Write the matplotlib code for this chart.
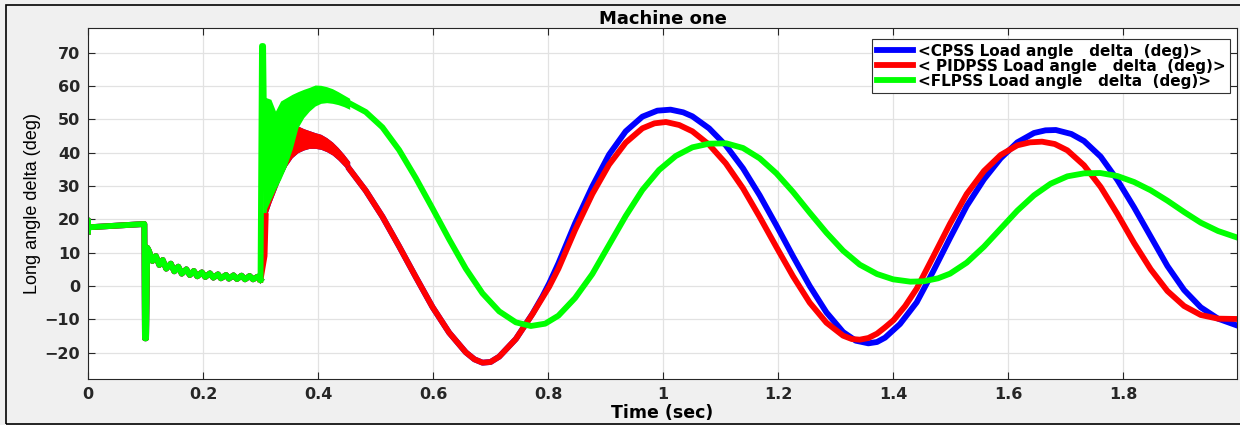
import matplotlib
matplotlib.use("Agg")
import matplotlib.pyplot as plt
from matplotlib.patches import Rectangle

# common pre-fault part (0 - 0.3 s), all three PSS give the same response
t_pre = [0.0, 0.0, 0.0, 0.098, 0.099, 0.101, 0.103, 0.106, 0.112, 0.118, 0.124, 0.130,
         0.136, 0.144, 0.150, 0.157, 0.163, 0.171, 0.177, 0.184, 0.190, 0.198, 0.204,
         0.212, 0.218, 0.226, 0.231, 0.240, 0.245, 0.253, 0.259, 0.267, 0.273, 0.281,
         0.287, 0.295, 0.300]
v_pre = [16.3, 19.7, 17.6, 18.6, -15.7, -15.7, 11.5, 10.5, 7.5, 9.0, 6.3, 7.8,
         5.2, 6.7, 4.4, 5.8, 3.7, 5.0, 3.3, 4.5, 2.9, 4.1, 2.7, 3.8,
         2.5, 3.5, 2.3, 3.3, 2.2, 3.2, 2.1, 3.1, 2.0, 3.0,
         2.0, 2.8, 1.9]

# chattering band right after the fault is cleared (upper / lower envelope)
t_band = [0.304, 0.310, 0.318, 0.326, 0.335, 0.345, 0.355, 0.365, 0.375, 0.385,
          0.395, 0.405, 0.415, 0.425, 0.435, 0.445, 0.455]
green_hi = [57.0, 56.5, 56.0, 52.5, 55.5, 56.5, 57.5, 58.3, 59.0, 59.6,
            60.3, 60.2, 59.8, 59.2, 58.3, 57.3, 56.3]
green_lo = [3.0, 23.0, 26.0, 29.0, 32.0, 36.0, 41.0, 47.5, 50.5, 52.5,
            54.0, 54.8, 55.0, 54.8, 54.4, 53.8, 53.0]
red_hi = [9.0, 24.0, 28.0, 31.0, 34.0, 38.0, 43.0, 48.0, 47.2, 46.6,
          46.0, 45.5, 44.5, 43.2, 41.5, 39.5, 37.3]
red_lo = [3.0, 21.0, 25.0, 28.5, 32.5, 36.0, 38.5, 40.0, 40.8, 41.3,
          41.3, 41.0, 40.3, 39.3, 37.8, 36.0, 34.0]

# spike of the FLPSS at fault clearing
t_spike = [0.300, 0.3025, 0.3045, 0.306]
v_spike = [1.9, 72.0, 72.0, 50.0]

# main swing after the band
t_red = [0.455, 0.483, 0.512, 0.541, 0.570, 0.599, 0.628, 0.657, 0.672, 0.686, 0.700,
         0.715, 0.744, 0.773, 0.802, 0.818, 0.847, 0.877, 0.906, 0.935, 0.964, 0.985,
         1.005, 1.028, 1.051, 1.080, 1.109, 1.139, 1.168, 1.197, 1.226, 1.255, 1.284,
         1.313, 1.328, 1.342, 1.357, 1.372, 1.386, 1.401, 1.421, 1.441, 1.470, 1.499,
         1.528, 1.558, 1.587, 1.616, 1.638, 1.659, 1.681, 1.703, 1.732, 1.761, 1.790,
         1.819, 1.848, 1.877, 1.906, 1.935, 1.965, 1.999]
v_red = [35.0, 28.6, 20.8, 11.9, 2.7, -6.3, -14.0, -19.9, -22.0, -23.0, -22.8,
         -21.2, -15.9, -8.4, -0.2, 5.2, 16.8, 27.6, 36.4, 43.0, 47.3, 48.8,
         49.2, 48.3, 46.4, 42.4, 36.8, 29.3, 20.7, 11.7, 2.9, -5.0, -11.0,
         -14.9, -15.9, -16.1, -15.6, -14.3, -12.4, -10.2, -6.0, -0.8, 8.9, 18.7,
         27.6, 34.5, 39.3, 42.2, 43.1, 43.3, 42.6, 40.7, 36.2, 29.7, 21.6,
         12.9, 5.0, -1.5, -6.0, -8.7, -9.8, -9.9]

t_blue = [0.455, 0.483, 0.512, 0.541, 0.570, 0.599, 0.628, 0.657, 0.672, 0.686, 0.700,
          0.715, 0.744, 0.773, 0.790, 0.802, 0.818, 0.847, 0.877, 0.906, 0.935, 0.964,
          0.990, 1.013, 1.035, 1.051, 1.080, 1.109, 1.139, 1.168, 1.197, 1.226, 1.255,
          1.284, 1.313, 1.335, 1.357, 1.372, 1.386, 1.412, 1.441, 1.470, 1.499, 1.528,
          1.558, 1.587, 1.616, 1.645, 1.665, 1.683, 1.710, 1.732, 1.761, 1.790, 1.819,
          1.848, 1.877, 1.906, 1.935, 1.965, 1.999]
v_blue = [35.0, 28.6, 20.8, 11.9, 2.7, -6.3, -14.0, -19.9, -22.0, -23.0, -22.8,
          -21.2, -15.9, -8.3, -3.2, 0.8, 6.8, 18.8, 29.9, 39.4, 46.4, 50.8,
          52.6, 52.9, 52.1, 50.9, 47.3, 42.2, 35.3, 27.2, 18.2, 8.9, 0.0,
          -7.9, -13.8, -16.4, -17.2, -16.8, -15.5, -11.4, -4.9, 4.5, 14.4, 24.0,
          32.0, 38.3, 43.1, 45.9, 46.7, 46.8, 45.6, 43.5, 38.8, 31.8, 23.6,
          14.8, 6.0, -1.2, -6.4, -9.8, -11.9]

t_green = [0.455, 0.483, 0.512, 0.541, 0.570, 0.599, 0.628, 0.657, 0.686, 0.715, 0.744,
           0.770, 0.795, 0.818, 0.847, 0.877, 0.906, 0.935, 0.964, 0.993, 1.022, 1.051,
           1.080, 1.110, 1.139, 1.168, 1.197, 1.226, 1.255, 1.284, 1.313, 1.342, 1.372,
           1.400, 1.430, 1.453, 1.478, 1.499, 1.528, 1.558, 1.587, 1.616, 1.645, 1.674,
           1.703, 1.732, 1.760, 1.790, 1.819, 1.848, 1.877, 1.906, 1.935, 1.965, 1.999]
v_green = [54.8, 52.2, 47.6, 40.8, 32.4, 23.3, 14.0, 5.2, -2.2, -7.6, -10.9,
           -12.0, -11.3, -8.9, -3.6, 3.6, 12.3, 21.0, 28.8, 34.8, 39.0, 41.6,
           42.7, 42.8, 41.4, 38.3, 33.8, 28.2, 22.0, 16.0, 10.6, 6.4, 3.6,
           2.0, 1.3, 1.4, 2.3, 3.7, 7.0, 11.8, 17.2, 22.6, 27.2, 30.7,
           32.9, 33.8, 33.9, 33.0, 31.2, 28.7, 25.6, 22.2, 19.0, 16.5, 14.5]

labels = ["<CPSS Load angle   delta  (deg)>",
          "< PIDPSS Load angle   delta  (deg)>",
          "<FLPSS Load angle   delta  (deg)>"]
colors = ["#0000ff", "#ff0000", "#00ff00"]

plt.rcParams["font.family"] = ["DejaVu Sans"]
plt.rcParams["font.weight"] = "bold"
plt.rcParams["lines.solid_joinstyle"] = "round"

W, H = 1240, 425
fig = plt.figure(figsize=(W / 100, H / 100), dpi=100, facecolor="#f0f0f0")
ax = fig.add_axes([88 / W, 1 - 379 / H, (1237 - 88) / W, (379 - 28) / H])
ax.set_facecolor("white")

lw = 4.2
# CPSS (blue) - same as PID before the swing, drawn first (under)
ax.plot(t_pre, v_pre, color=colors[0], lw=lw)
ax.fill_between(t_band, red_lo, red_hi, color=colors[0], lw=0)
ax.plot(t_blue, v_blue, color=colors[0], lw=lw, label=labels[0])

# PIDPSS (red)
ax.plot(t_pre, v_pre, color=colors[1], lw=lw)
ax.plot([0.300, 0.307, 0.309], [1.9, 9.0, 21.0], color=colors[1], lw=lw)
ax.fill_between(t_band, red_lo, red_hi, color=colors[1], lw=0)
ax.plot(t_red, v_red, color=colors[1], lw=lw, label=labels[1])

# FLPSS (green) on top
ax.plot(t_pre, v_pre, color=colors[2], lw=lw)
ax.plot(t_spike, v_spike, color=colors[2], lw=lw)
ax.fill_between(t_band, green_lo, green_hi, color=colors[2], lw=0)
ax.plot(t_green, v_green, color=colors[2], lw=lw, label=labels[2])

ax.set_xlim(0, 1.998)
ax.set_ylim(-27.9, 77.4)
ax.set_xticks([0, 0.2, 0.4, 0.6, 0.8, 1.0, 1.2, 1.4, 1.6, 1.8])
ax.set_xticklabels(["0", "0.2", "0.4", "0.6", "0.8", "1", "1.2", "1.4", "1.6", "1.8"])
ax.set_yticks(range(-20, 80, 10))
ax.grid(True, color="#e2e2e2", lw=0.9)
ax.set_axisbelow(True)
ax.tick_params(direction="in", top=True, right=True, length=5, width=0.8,
               colors="#262626", labelsize=11.5)
ax.tick_params(axis="y", pad=5.5)
ax.tick_params(axis="x", pad=6)
for s in ax.spines.values():
    s.set_color("#262626")
    s.set_linewidth(0.8)

ax.set_title("Machine one", fontsize=13, fontweight="bold", pad=3)
ax.set_xlabel("Time (sec)", fontsize=12.5, fontweight="bold")
ax.xaxis.label.set_verticalalignment("center")
ax.xaxis.set_label_coords(0.5, (379 - 413) / 351)
ax.set_ylabel("Long angle delta (deg)", fontsize=13, fontweight="normal",
              family="Liberation Sans")
ax.yaxis.label.set_verticalalignment("center")
ax.yaxis.set_label_coords((33 - 88) / 1149, 0.5)

leg = ax.legend(loc="upper right", bbox_to_anchor=((1230 - 88) / 1149, (379 - 39) / 351),
                borderaxespad=0, fontsize=11, frameon=True, fancybox=False,
                framealpha=1, edgecolor="#333333", handlelength=2.4,
                handletextpad=0.3, labelspacing=0.0, borderpad=0.3)
leg.get_frame().set_linewidth(0.8)

# outer frame of the figure window
fig.patches.append(Rectangle((6 / W, 1 - 424 / H), (1245 - 6) / W, (424 - 5) / H,
                             transform=fig.transFigure, fill=False,
                             edgecolor="black", lw=1.2))

fig.savefig("out.png", dpi=100, facecolor=fig.get_facecolor())
